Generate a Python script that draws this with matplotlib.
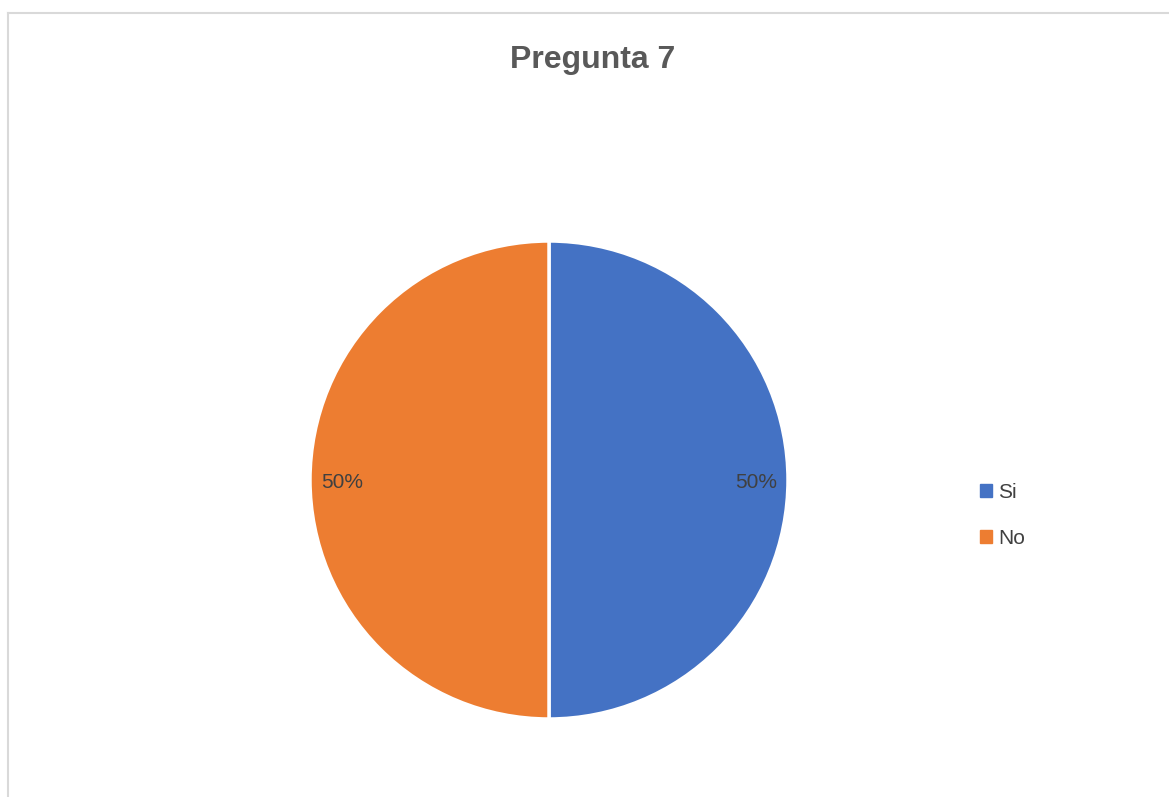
import matplotlib.pyplot as plt
from matplotlib.lines import Line2D
from matplotlib.patches import Patch

# Datos de la pregunta 7
categorias = ["Si", "No"]
valores    = [50, 50]
colores    = ["#4472C4", "#ED7D31"]

plt.rcParams['font.family'] = ['Liberation Sans', 'DejaVu Sans']

W, H = 1169, 797
fig = plt.figure(figsize=(W/100, H/100), dpi=100)

# Marco gris del gráfico
fig.add_artist(Line2D([7.5/W, 1], [1 - 12.5/H, 1 - 12.5/H], color="#d9d9d9", lw=1.5))
fig.add_artist(Line2D([7.5/W, 7.5/W], [0, 1 - 12.5/H], color="#d9d9d9", lw=1.5))

# Ejes para la torta: centro (549, 480), radio 239 px
cx, cy, r = 549, 480, 239
ax = fig.add_axes([(cx - r)/W, (H - cy - r)/H, 2*r/W, 2*r/H])
wedges, textos, pcts = ax.pie(valores, colors=colores, startangle=90, counterclock=False,
                              autopct="%1.0f%%", pctdistance=0.865,
                              wedgeprops=dict(edgecolor="white", linewidth=2.5),
                              textprops=dict(color="#404040", fontsize=15))
# bajar un poco las etiquetas de porcentaje
for t in pcts:
    x, y = t.get_position()
    t.set_position((x, y - 0.012))
ax.set_xlim(-1, 1)
ax.set_ylim(-1, 1)
ax.axis("off")

fig.text(593/W, 1 - 60/H, "Pregunta 7", ha="center", va="center",
         fontsize=23, fontweight="bold", color="#595959")

handles = [Patch(facecolor=c, edgecolor=c) for c in colores]
fig.legend(handles, categorias, loc="upper left", bbox_to_anchor=(961/W, 1 - 464/H),
           frameon=False, fontsize=15, handlelength=0.6, handleheight=0.6,
           handletextpad=0.3, labelspacing=1.3, labelcolor="#404040")

fig.savefig("out.png", dpi=100)
